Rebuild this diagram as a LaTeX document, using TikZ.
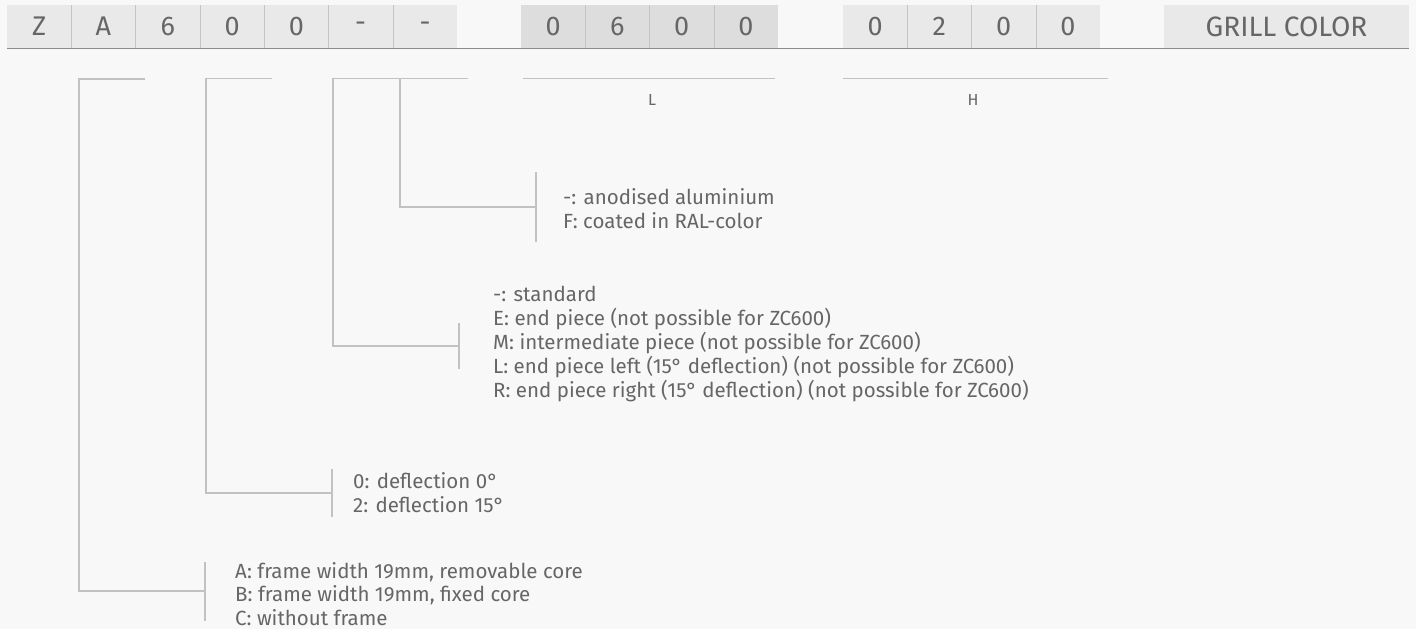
\documentclass[tikz,border=0pt]{standalone}
\usepackage{fontspec}
\setmainfont{Fira Sans}
\usetikzlibrary{positioning}
\definecolor{bgcol}{HTML}{F8F8F8}
\definecolor{cellcol}{HTML}{E9E9E9}
\definecolor{dimcol}{HTML}{DDDDDD}
\definecolor{sepcol}{HTML}{C4C4C4}
\definecolor{brkcol}{HTML}{C2C2C2}
\definecolor{txtcol}{HTML}{666666}
\tikzset{
  cell/.style={fill=cellcol,minimum width=64.3pt,minimum height=43pt,inner sep=0pt,
    text=txtcol,font=\fontsize{27}{27}\selectfont},
  dimcell/.style={cell,fill=dimcol},
  brk/.style={draw=brkcol,line width=1.2pt},
  desc/.style={anchor=west,inner sep=0pt,text=txtcol,align=left,
    font=\fontsize{20.5}{23.8}\selectfont},
  dimlabel/.style={inner sep=0pt,text=txtcol,font=\fontsize{16}{16}\selectfont}
}
\begin{document}
\begin{tikzpicture}[x=1pt,y=-1pt]
  \useasboundingbox[fill=bgcol] (0,0) rectangle (1416,629);

  %type code
  \foreach \ch [count=\i from 0] in {Z,A,6,0,0,-,-}
    \node[cell] (c\i) at (39.15+64.3*\i,26.5) {\ch};
  %length L
  \foreach \ch [count=\i from 0] in {0,6,0,0}
    \node[dimcell] (l\i) at (553.1+64.25*\i,26.5) {\ch};
  %height H
  \foreach \ch [count=\i from 0] in {0,2,0,0}
    \node[cell] (h\i) at (875.1+64.25*\i,26.5) {\ch};
  \node[cell,minimum width=245pt,font=\fontsize{28}{28}\selectfont] (grill) at (1286.5,26.5) {GRILL COLOR};

  %cell separators
  \foreach \i in {0,...,5}
    \draw[sepcol,line width=0.8pt] (c\i.north east) -- (c\i.south east);
  \foreach \i in {0,1,2}
    \draw[sepcol,line width=0.8pt] (l\i.north east) -- (l\i.south east);
  \foreach \i in {0,1,2}
    \draw[sepcol,line width=0.8pt] (h\i.north east) -- (h\i.south east);
  \draw[black!45,line width=1.3pt] (c0.south west) -- (grill.south east);

  %dimension lines
  \draw[brk] (523,78.5) -- (775,78.5);
  \node[dimlabel] (lab-l) at (652,100) {L};
  \draw[brk] (843,78.5) -- (1108,78.5);
  \node[dimlabel] (lab-h) at (973,100) {H};

  %descriptions
  \node[desc] (d-frame) at (235,594) {A: frame width 19mm, removable core\\
    B: frame width 19mm, fixed core\\C: without frame};
  \node[desc] (d-defl) at (353,493) {0: deflection 0°\\2: deflection 15°};
  \node[desc] (d-piece) at (493,344) {-: standard\\E: end piece (not possible for ZC600)\\
    M: intermediate piece (not possible for ZC600)\\
    L: end piece left (15° deflection) (not possible for ZC600)\\
    R: end piece right (15° deflection) (not possible for ZC600)};
  \node[desc] (d-color) at (563,209) {-: anodised aluminium\\F: coated in RAL-color};

  %brackets
  \coordinate (b-frame) at (205,591);
  \coordinate (b-defl) at (332,493);
  \coordinate (b-piece) at (459,346);
  \coordinate (b-color) at (536,207);
  \draw[brk] (145,79) -- (79,79) |- (b-frame);
  \draw[brk] ([yshift=-30pt]b-frame) -- ([yshift=29pt]b-frame);
  \draw[brk] (272,78.5) -- (206,78.5) |- (b-defl);
  \draw[brk] ([yshift=-24pt]b-defl) -- ([yshift=24pt]b-defl);
  \draw[brk] (468,78.5) -- (333,78.5) |- (b-piece);
  \draw[brk] ([yshift=-23pt]b-piece) -- ([yshift=23pt]b-piece);
  \draw[brk] (400,78.5) |- (b-color);
  \draw[brk] ([yshift=-35pt]b-color) -- ([yshift=35pt]b-color);
\end{tikzpicture}
\end{document}
